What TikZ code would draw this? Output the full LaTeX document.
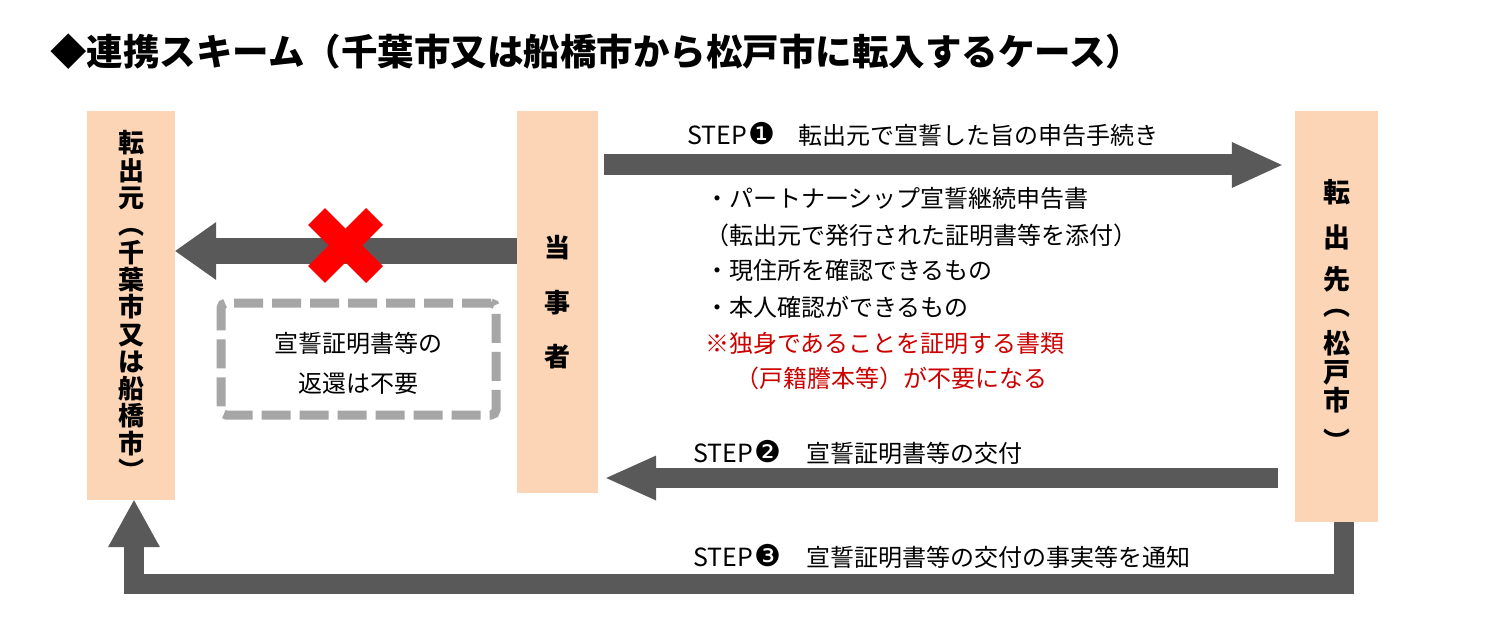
\documentclass[tikz,border=0pt]{standalone}
\usepackage{fontspec}
\setmainfont{Noto Sans CJK JP}
\newfontfamily\dingfont{DejaVu Sans}
\usetikzlibrary{calc}
\definecolor{peach}{HTML}{FBD5B5}
\definecolor{arw}{HTML}{595959}
\definecolor{dashg}{HTML}{A6A6A6}
\definecolor{redtxt}{HTML}{CC0000}
\definecolor{xred}{HTML}{FF0000}
\newcommand\bigarrow[5]{%
  \path ($(#2)!#4!(#1)$) coordinate (hb);
  \draw[draw=arw, line width=#3] (#1) -- ($(hb)!1pt!(#2)$);
  \fill[arw] (#2) -- ($(hb)!#5!90:(#2)$) -- ($(hb)!#5!-90:(#2)$) -- cycle;
}
\newcommand\stepnum[1]{\hspace{1pt}{\dingfont\fontsize{30}{30}\selectfont #1}}
\begin{document}
\begin{tikzpicture}[x=1pt,y=-1pt,
  box/.style={fill=peach, draw=none, inner sep=0pt},
  vchar/.style={inner sep=0pt, text height=22.9pt, text depth=3.1pt, font=\fontsize{26}{26}\selectfont\bfseries},
  vcharR/.style={inner sep=0pt, text height=23.8pt, text depth=3.2pt, font=\fontsize{27}{27}\selectfont\bfseries},
  body/.style={inner sep=0pt, anchor=west, text height=21.1pt, text depth=2.9pt, font=\fontsize{24}{24}\selectfont},
  bodyc/.style={body, anchor=center},
  redbody/.style={body, text=redtxt},
  steplbl/.style={inner sep=0pt, anchor=west, text height=21.1pt, text depth=2.9pt, font=\fontsize{25}{25}\selectfont},
  titlestyle/.style={inner sep=0pt, anchor=west, text height=32.1pt, text depth=4.4pt, font=\fontsize{36.5}{36.5}\selectfont\bfseries},
  dbox/.style={draw=dashg, line width=9pt, dash pattern=on 29pt off 9pt, rounded corners=5pt, inner sep=0pt},
  xmark/.style={draw=xred, line width=24pt}
]
\fill[white] (0,0) rectangle (1485,644);
\useasboundingbox (0,0) rectangle (1485,644);

% title
\node[titlestyle] (title) at (50,52) {◆連携スキーム（千葉市又は船橋市から松戸市に転入するケース）};

% boxes
\node[box, minimum width=88pt, minimum height=389pt] (l) at (131,305.5) {};
\node[box, minimum width=81pt, minimum height=382pt] (p) at (557.5,302) {};
\node[box, minimum width=83pt, minimum height=411pt] (r) at (1336.5,316.5) {};

% box texts
\foreach \c [count=\i] in {転,出,元,︵,千,葉,市,又,は,船,橋,市,︶}
  \node[vchar] (lc\i) at (131,{143+27.3*(\i-1)}) {\c};
\foreach \c/\yy [count=\i] in {当/248,事/303,者/357}
  \node[vchar] (pc\i) at (557.5,\yy) {\c};
\foreach \c/\yy [count=\i] in {転/192,出/237,先/279,︵/305,松/343,戸/372,市/400,︶/441}
  \node[vcharR] (rc\i) at (1337,\yy) {\c};

% level coordinates
\coordinate (y0) at (0,251);
\coordinate (y1) at (0,165);
\coordinate (y2) at (0,478);
\coordinate (y3) at (0,583.5);

% crossed arrow to the left box
\coordinate (c0a) at (p.west |- y0);
\coordinate (c0b) at (l.east |- y0);
\bigarrow{c0a}{c0b}{26pt}{41pt}{29pt}

% step 1
\coordinate (s1a) at ($(p.east |- y1)+(6,0)$);
\coordinate (s1b) at ($(r.west |- y1)+(-13,0)$);
\bigarrow{s1a}{s1b}{21pt}{50pt}{23pt}

% step 2
\coordinate (s2a) at ($(r.west |- y2)+(-17,0)$);
\coordinate (s2b) at ($(p.east |- y2)+(8,0)$);
\bigarrow{s2a}{s2b}{20pt}{50pt}{22.5pt}

% step 3
\coordinate (s3a) at ($(r.south)+(7,0)$);
\coordinate (s3t) at ($(l.south)+(3,0)$);
\draw[draw=arw, line width=20pt, line join=miter] (s3a) -- (s3a |- y3) -- (s3t |- y3) -- ($(s3t)+(0,46)$);
\fill[arw] (s3t) -- ($(s3t)+(-26,47)$) -- ($(s3t)+(26,47)$) -- cycle;

% red cross
\draw[xmark] (316.5,216.5) -- (374.5,274.5);
\draw[xmark] (374.5,216.5) -- (316.5,274.5);

% dashed box
\node[dbox, minimum width=275pt, minimum height=112pt] (db) at (358.5,359) {};
\node[bodyc] (db1) at (358.5,343) {宣誓証明書等の};
\node[bodyc] (db2) at (358.5,383) {返還は不要};

% step labels
\node[steplbl] (s1l) at (687,135) {STEP\stepnum{❶}};
\node[body] (s1t) at (798,135) {転出元で宣誓した旨の申告手続き};
\node[steplbl] (s2l) at (693,453) {STEP\stepnum{❷}};
\node[body] (s2t) at (806,453) {宣誓証明書等の交付};
\node[steplbl] (s3l) at (693,557) {STEP\stepnum{❸}};
\node[body] (s3t) at (806,557) {宣誓証明書等の交付の事実等を通知};

% bullet list
\node[body] (b1) at (705,198) {・パートナーシップ宣誓継続申告書};
\node[body] (b2) at (705,235) {（転出元で発行された証明書等を添付）};
\node[body] (b3) at (705,270) {・現住所を確認できるもの};
\node[body] (b4) at (705,307) {・本人確認ができるもの};
\node[redbody] (b5) at (705,343) {※独身であることを証明する書類};
\node[redbody] (b6) at (735,378) {（戸籍謄本等）が不要になる};
\end{tikzpicture}
\end{document}
